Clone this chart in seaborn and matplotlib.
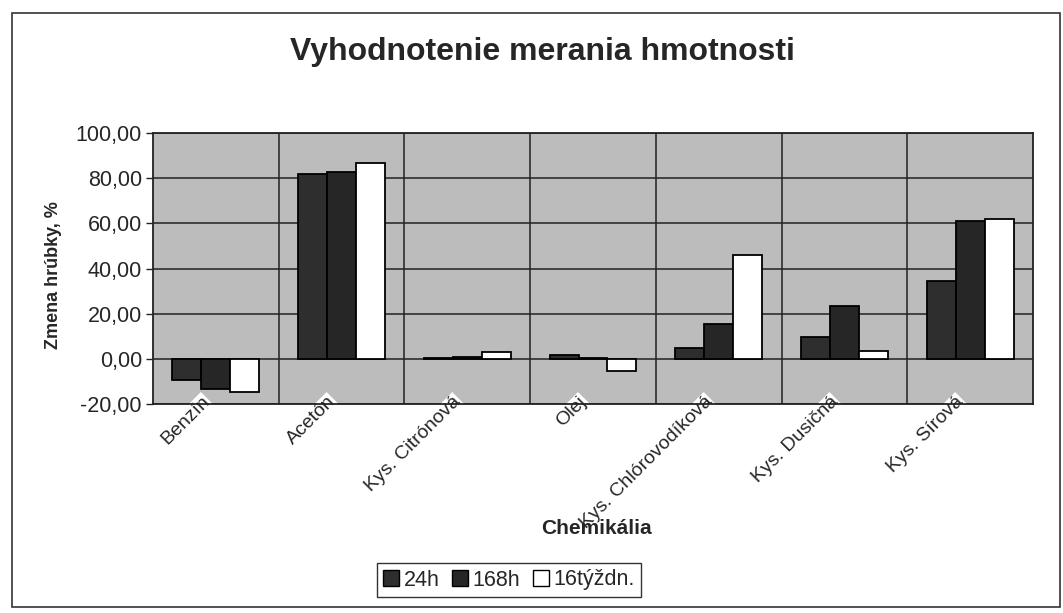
import numpy as np
import pandas as pd
import matplotlib
matplotlib.use("Agg")
import matplotlib.pyplot as plt
import matplotlib.transforms as mtransforms
import seaborn as sns
from matplotlib.patches import Patch, Rectangle

chemicals = ["Benzín", "Acetón", "Kys. Citrónová", "Olej",
             "Kys. Chlórovodíková", "Kys. Dusičná", "Kys. Sírová"]
series = ["24h", "168h", "16týždn."]
v_24h = [-9.3, 81.9, 0.4, 1.5, 5.0, 9.5, 34.5]
v_168h = [-13.3, 82.6, 0.8, 0.2, 15.5, 23.5, 61.0]
v_16t = [-14.6, 86.6, 3.2, -5.2, 46.0, 3.5, 62.0]
yticks = [-20, 0, 20, 40, 60, 80, 100]

df = pd.DataFrame({
    "Chemikália": chemicals * 3,
    "Séria": [series[0]] * 7 + [series[1]] * 7 + [series[2]] * 7,
    "Hodnota": v_24h + v_168h + v_16t,
})

sns.set_style("white")
plt.rcParams['font.family'] = ['Liberation Sans', 'DejaVu Sans']

colors = {"24h": "#2e2e2e", "168h": "#262626", "16týždn.": "#ffffff"}

fig = plt.figure(figsize=(10.63, 6.13), dpi=100)
ax = fig.add_axes([153 / 1063, 1 - 404 / 613, 880 / 1063, 271 / 613])
ax.set_facecolor("#bcbcbc")

sns.barplot(data=df, x="Chemikália", y="Hodnota", hue="Séria",
            palette=colors, width=0.69, edgecolor="black", linewidth=1.3,
            saturation=1, ax=ax, legend=False)

ax.set_ylim(-20, 100)
ax.set_xlim(-0.5, len(chemicals) - 0.5)
ax.set_yticks(yticks)
ax.set_yticklabels([f"{t:.2f}".replace(".", ",") for t in yticks], fontsize=15.5)
for y in yticks:
    ax.axhline(y, color="#222222", lw=1.1, zorder=0.5)
for i in range(len(chemicals) - 1):
    ax.axvline(i + 0.5, color="#222222", lw=1.1, zorder=0.5)
ax.set_axisbelow(True)
for s in ax.spines.values():
    s.set_color("#222222")
    s.set_linewidth(1.3)

ax.tick_params(axis="y", which="major", left=True, length=5, width=1,
               color="#222222", pad=3)
ax.tick_params(axis="x", bottom=False, pad=-7)
ax.set_xticks(range(len(chemicals)))
ax.set_xticklabels(chemicals, rotation=45, ha="right", va="center",
                   rotation_mode="anchor", fontsize=14)
shift = mtransforms.ScaledTranslation(-9 / 100, 0, fig.dpi_scale_trans)
for lab in ax.get_xticklabels():
    lab.set_transform(lab.get_transform() + shift)
    lab.set_zorder(5)
    lab.set_bbox(dict(facecolor="white", edgecolor="none", pad=0.6))

ax.set_xlabel("Chemikália", fontsize=15, fontweight="bold")
ax.set_ylabel("Zmena hrúbky, %", fontsize=13, fontweight="bold")
ax.xaxis.set_label_coords((596 - 153) / 880, -(528 - 404) / 271)
ax.yaxis.set_label_coords(-(153 - 53) / 880, 1 - (275 - 133) / 271)
ax.xaxis.label.set_va("center")
ax.yaxis.label.set_va("center")

fig.text(542.5 / 1063, 1 - 52 / 613, "Vyhodnotenie merania hmotnosti",
         ha="center", va="center", fontsize=23, fontweight="bold")

handles = [Patch(facecolor=colors[s], edgecolor="black", label=s) for s in series]
leg = fig.legend(handles=handles, loc="center", ncol=3,
                 bbox_to_anchor=(509 / 1063, 1 - 580 / 613), fontsize=15.5,
                 frameon=True, fancybox=False, handlelength=0.75, handleheight=0.75,
                 handletextpad=0.2, columnspacing=0.6, borderpad=0.3)
leg.get_frame().set_edgecolor("black")
leg.get_frame().set_linewidth(1)

fig.patches.append(Rectangle((12 / 1063, 6 / 613), 1048 / 1063, 594 / 613,
                             transform=fig.transFigure, fill=False,
                             edgecolor="#333333", lw=1.2))

fig.savefig("out.png", dpi=100)
